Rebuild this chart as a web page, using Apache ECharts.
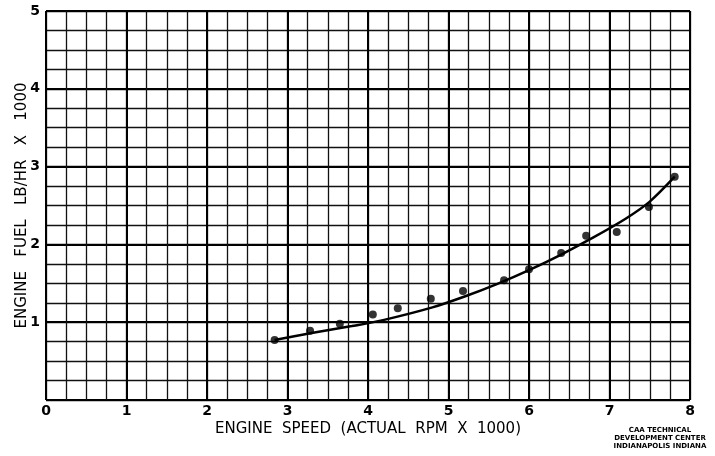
<!DOCTYPE html>
<html>
<head>
<meta charset="utf-8">
<script src="https://cdn.jsdelivr.net/npm/echarts@6/dist/echarts.min.js"></script>
<style>
  html, body { margin: 0; padding: 0; background: #fff; }
  #chart { width: 715px; height: 456px; }
</style>
</head>
<body>
<div id="chart"></div>
<script>
// measured points (engine speed x1000 rpm, fuel lb/hr x1000)
const speedPts = [2.84, 3.28, 3.65, 4.06, 4.37, 4.78, 5.18, 5.69, 6.00, 6.40, 6.71, 7.09, 7.49, 7.81]
const fuelPts = [0.77, 0.89, 0.98, 1.10, 1.18, 1.30, 1.40, 1.54, 1.68, 1.89, 2.11, 2.16, 2.48, 2.87]

// faired curve
const curveX = [2.84, 3.3, 3.8, 4.2, 4.8, 5.2, 5.6, 6.0, 6.4, 6.8, 7.2, 7.5, 7.81]
const curveY = [0.77, 0.86, 0.95, 1.03, 1.19, 1.33, 1.49, 1.67, 1.87, 2.09, 2.33, 2.55, 2.87]

const xTitle = 'ENGINE  SPEED  (ACTUAL  RPM  X  1000)'
const yTitle = 'ENGINE   FUEL   LB/HR   X   1000'
const credit = ['CAA TECHNICAL', 'DEVELOPMENT CENTER', 'INDIANAPOLIS INDIANA']

const chart = echarts.init(document.getElementById('chart'))

const intLabel = v => (Math.abs(v - Math.round(v)) < 1e-6 ? String(Math.round(v)) : '')
const font = 'DejaVu Sans'

const option = {
  backgroundColor: '#fff',
  animation: false,
  grid: { left: 46, right: 25, top: 11, bottom: 56, containLabel: false, outerBoundsMode: 'none' },
  xAxis: [
    {
      type: 'value', min: 0, max: 8, interval: 0.25,
      axisLine: { show: false }, axisTick: { show: false },
      axisLabel: {
        formatter: intLabel, color: '#000', fontSize: 14, fontWeight: 'bold',
        fontFamily: font, margin: 4
      },
      splitLine: { lineStyle: { color: '#111', width: 1.3 } },
      name: xTitle, nameLocation: 'middle', nameGap: 22, nameMoveOverlap: false,
      nameTextStyle: { color: '#000', fontSize: 15, fontFamily: font }
    },
    {
      type: 'value', min: 0, max: 8, interval: 1, position: 'bottom',
      axisLine: { show: false }, axisTick: { show: false }, axisLabel: { show: false },
      splitLine: { lineStyle: { color: '#000', width: 2 } }
    }
  ],
  yAxis: [
    {
      type: 'value', min: 0, max: 5, interval: 0.25,
      axisLine: { show: false }, axisTick: { show: false },
      axisLabel: {
        formatter: v => (v === 0 ? '' : intLabel(v)), color: '#000', fontSize: 14,
        fontWeight: 'bold', fontFamily: font, margin: 6
      },
      splitLine: { lineStyle: { color: '#111', width: 1.3 } },
      name: yTitle, nameLocation: 'middle', nameGap: 16, nameRotate: 90, nameMoveOverlap: false,
      nameTextStyle: { color: '#000', fontSize: 15, fontFamily: font }
    },
    {
      type: 'value', min: 0, max: 5, interval: 1, position: 'left',
      axisLine: { show: false }, axisTick: { show: false }, axisLabel: { show: false },
      splitLine: { lineStyle: { color: '#000', width: 2 } }
    }
  ],
  series: [
    {
      type: 'line',
      data: curveX.map((x, i) => [x, curveY[i]]),
      smooth: 0.3,
      showSymbol: false,
      lineStyle: { color: '#000', width: 2.5 },
      z: 3
    },
    {
      type: 'scatter',
      data: speedPts.map((x, i) => [x, fuelPts[i]]),
      symbolSize: 8,
      itemStyle: { color: '#000' },
      z: 4
    }
  ],
  graphic: credit.map((t, i) => ({
    type: 'text',
    x: 660, y: 427 + i * 8,
    style: {
      text: t, fill: '#000', font: 'bold 7px "DejaVu Sans"', textAlign: 'center'
    }
  }))
}

chart.setOption(option)
</script>
</body>
</html>
